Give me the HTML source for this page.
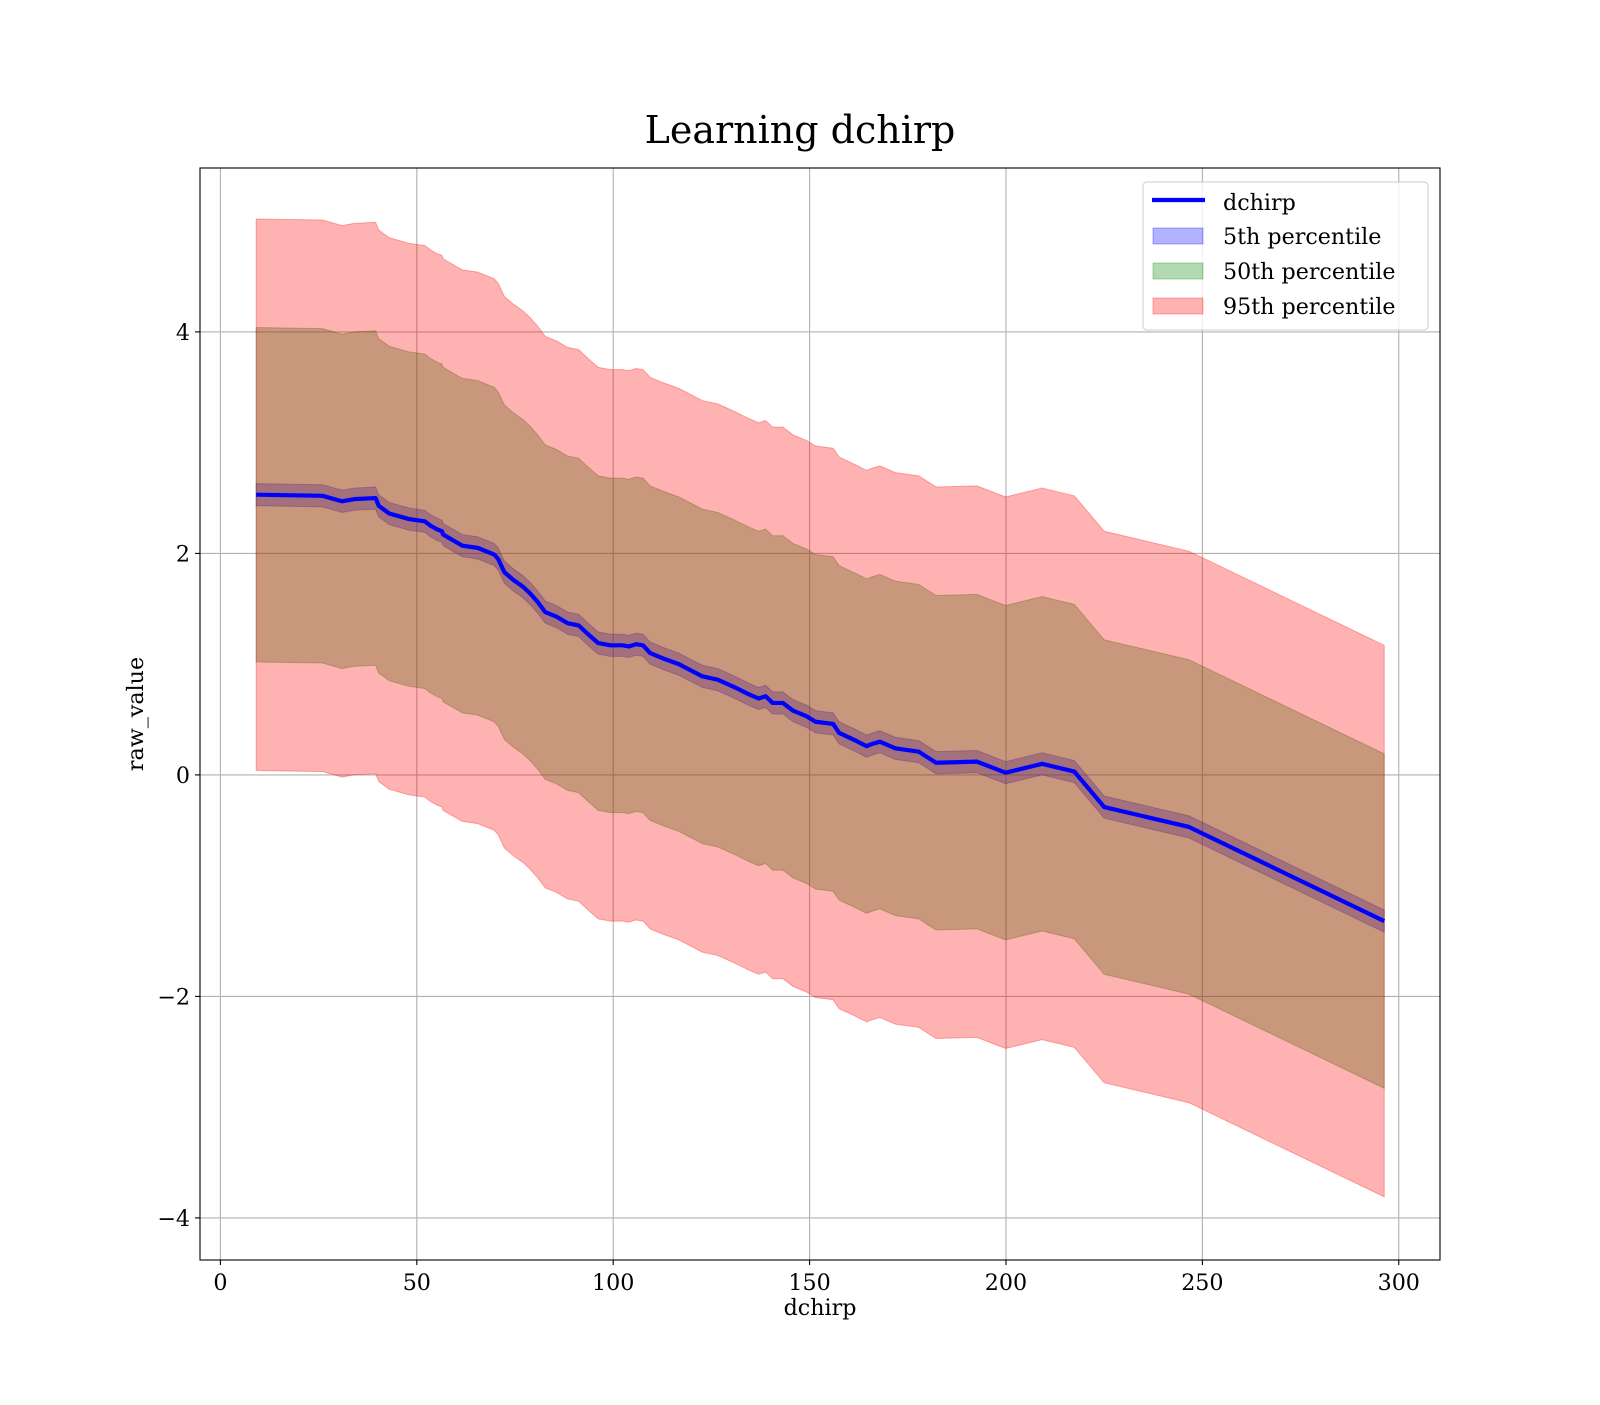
<!DOCTYPE html>
<html><head><meta charset="utf-8"><style>
html,body{margin:0;padding:0;background:#fff;}
svg text{font-family:"DejaVu Serif","Liberation Serif",serif;fill:#000;}
</style></head><body>
<svg id="chart" width="1600" height="1400" xmlns="http://www.w3.org/2000/svg">
<rect width="1600" height="1400" fill="#fff"/>
<text x="800" y="143" font-size="38" text-anchor="middle">Learning dchirp</text>
<g id="plot"></g>
<text x="820" y="1315" font-size="22.2" text-anchor="middle">dchirp</text>
<text x="0" y="0" font-size="22.2" text-anchor="middle" transform="translate(143,714) rotate(-90)">raw_value</text>
<g>
<rect x="1143" y="182" width="285" height="148" rx="4" fill="#fff" fill-opacity="0.8" stroke="#ccc" stroke-width="1"/>
<g><line x1="1152" y1="200" x2="1205" y2="200" stroke="#0000ff" stroke-width="4.2"/><text x="1223" y="210" font-size="22.2">dchirp</text></g>
<g><rect x="1153" y="228" width="50" height="16" fill="#0000ff" fill-opacity="0.3" stroke="#0000ff" stroke-opacity="0.3"/><text x="1223" y="244" font-size="22.2">5th percentile</text></g>
<g><rect x="1153" y="263" width="50" height="16" fill="#008000" fill-opacity="0.3" stroke="#008000" stroke-opacity="0.3"/><text x="1223" y="279" font-size="22.2">50th percentile</text></g>
<g><rect x="1153" y="298" width="50" height="16" fill="#ff0000" fill-opacity="0.3" stroke="#ff0000" stroke-opacity="0.3"/><text x="1223" y="314" font-size="22.2">95th percentile</text></g>
</g>
</svg>
<script>
const xValues=[9.1,26,31,34,39.5,40.3,43,48,52,53.5,55,56.4,56.7,61.6,65.5,69.7,70.7,72.3,74.6,77,78.8,80.8,82.7,85.5,88.4,91.2,93.6,96.2,99.3,102.4,104,105.8,107.6,109.4,112.8,116.7,122.7,126.6,131,134.4,137,138.8,140.6,143.2,145.8,149.2,151.5,156,157.5,161.7,164.5,166,167.9,171.8,177.8,179.1,182.2,192.6,199.9,209.2,217.4,225,246.6,296.3];
const meanValues=[2.53,2.52,2.47,2.49,2.50,2.43,2.36,2.31,2.29,2.25,2.22,2.2,2.17,2.07,2.05,1.99,1.95,1.83,1.76,1.7,1.64,1.56,1.47,1.43,1.37,1.35,1.27,1.19,1.17,1.17,1.16,1.18,1.17,1.10,1.05,1.0,0.89,0.86,0.79,0.73,0.69,0.71,0.65,0.65,0.58,0.53,0.48,0.46,0.38,0.31,0.26,0.28,0.30,0.24,0.21,0.18,0.11,0.12,0.02,0.10,0.03,-0.29,-0.47,-1.32];
const bandNames=["5th","50th","95th"];
const bandHalfWidths=[0.1,1.51,2.49];
const xTicks=[0,50,100,150,200,250,300];
const yTicks=[-4,-2,0,2,4];

const L=200,R=1440,T=168,B=1260;
const xMin=-5.2,xMax=310.5,yMin=-4.38,yMax=5.48;
const sx=v=>L+(v-xMin)/(xMax-xMin)*(R-L);
const sy=v=>B-(v-yMin)/(yMax-yMin)*(B-T);
const NS="http://www.w3.org/2000/svg";
const g=document.getElementById('plot');
function mk(tag,attrs,parent){const e=document.createElementNS(NS,tag);for(const k in attrs)e.setAttribute(k,attrs[k]);(parent||g).appendChild(e);return e;}

// grid
xTicks.forEach(t=>{
  const l=mk('line',{x1:sx(t),x2:sx(t),y1:T,y2:B,stroke:'#b0b0b0','stroke-width':1.1});
  
  
});
yTicks.forEach(t=>{
  const l=mk('line',{x1:L,x2:R,y1:sy(t),y2:sy(t),stroke:'#b0b0b0','stroke-width':1.1});
  
  
});
// bands
const colors=['#0000ff','#008000','#ff0000'];
bandNames.forEach((n,i)=>{
  const hw=bandHalfWidths[i];
  let d='M'+xValues.map((x,j)=>sx(x).toFixed(2)+','+sy(meanValues[j]+hw).toFixed(2)).join('L');
  for(let j=xValues.length-1;j>=0;j--) d+='L'+sx(xValues[j]).toFixed(2)+','+sy(meanValues[j]-hw).toFixed(2);
  d+='Z';
  const p=mk('path',{d:d,fill:colors[i],'fill-opacity':0.3,stroke:colors[i],'stroke-opacity':0.3,'stroke-width':1});
  
  
});
// mean line
const ln=mk('polyline',{points:xValues.map((x,j)=>sx(x).toFixed(2)+','+sy(meanValues[j]).toFixed(2)).join(' '),fill:'none',stroke:'#0000ff','stroke-width':4.2,'stroke-linejoin':'round'});


// spines
const sp=mk('rect',{x:L,y:T,width:R-L,height:B-T,fill:'none',stroke:'#000','stroke-width':1.1});


// ticks
xTicks.forEach(t=>{
  const tk=mk('line',{x1:sx(t),x2:sx(t),y1:B,y2:B+5,stroke:'#000','stroke-width':1.1});
  
  
  const tx=mk('text',{x:sx(t),y:B+30,'font-size':22.2,'text-anchor':'middle'});
  tx.textContent=String(t);
  
  
});
yTicks.forEach(t=>{
  const tk=mk('line',{x1:L-5,x2:L,y1:sy(t),y2:sy(t),stroke:'#000','stroke-width':1.1});
  
  
  const tx=mk('text',{x:L-10,y:sy(t)+8,'font-size':22.2,'text-anchor':'end'});
  tx.textContent=(t<0?'\u2212'+Math.abs(t):String(t));
  
  
});
</script>
</body></html>
